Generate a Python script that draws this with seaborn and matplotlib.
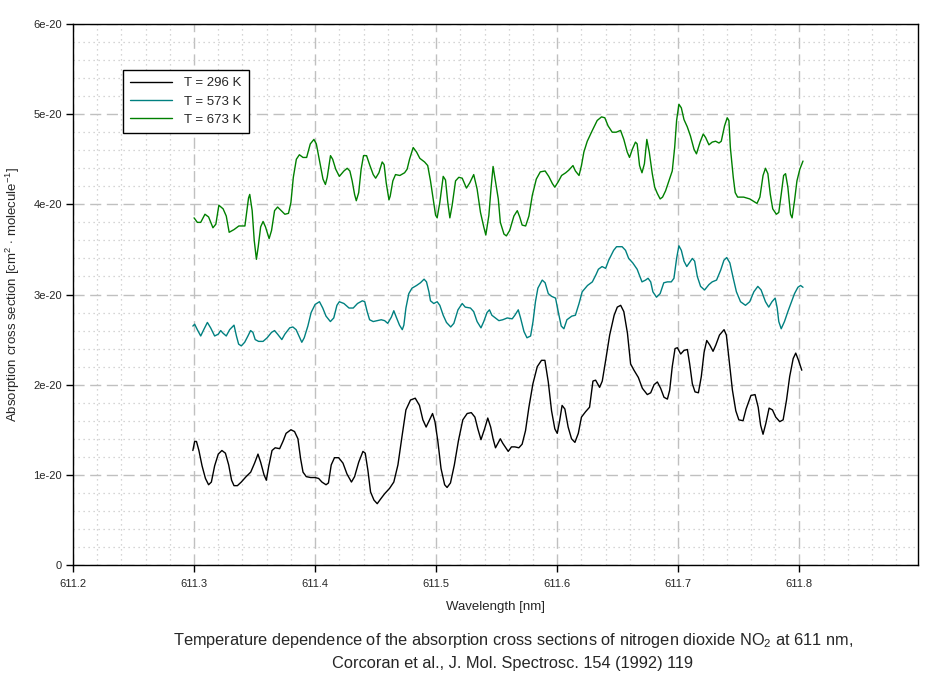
import numpy as np
import pandas as pd
import seaborn as sns
import matplotlib
matplotlib.use("Agg")
from matplotlib import pyplot as plt
from matplotlib.ticker import MultipleLocator, FuncFormatter

# values, cross sections in units of 1e-20 cm^2/molecule
wl_296 = [611.299, 611.3005, 611.302, 611.304, 611.3066, 611.3094, 611.312, 611.3143, 611.317, 611.320,
          611.323, 611.3259, 611.3286, 611.331, 611.333, 611.3358, 611.339, 611.343, 611.3468, 611.350,
          611.3528, 611.355, 611.3578, 611.3597, 611.3616, 611.3644, 611.367, 611.3707, 611.3734, 611.376,
          611.380, 611.383, 611.3858, 611.388, 611.390, 611.3927, 611.3963, 611.400, 611.4029, 611.4056,
          611.409, 611.411, 611.4133, 611.416, 611.4194, 611.423, 611.4263, 611.430, 611.4326, 611.436,
          611.4395, 611.4414, 611.4436, 611.4458, 611.4486, 611.4513, 611.454, 611.4574, 611.4615, 611.465,
          611.4684, 611.4717, 611.475, 611.4788, 611.4827, 611.4862, 611.489, 611.4917, 611.4945, 611.497,
          611.499, 611.5014, 611.504, 611.507, 611.509, 611.5118, 611.515, 611.5184, 611.522, 611.5256,
          611.529, 611.532, 611.5344, 611.537, 611.540, 611.5426, 611.545, 611.547, 611.549, 611.551,
          611.553, 611.555, 611.5565,
          611.5595, 611.5622, 611.565, 611.5683, 611.571, 611.5738, 611.5766, 611.5799, 611.5835, 611.587,
          611.5898, 611.5926, 611.5953, 611.598, 611.600, 611.602, 611.604, 611.6063, 611.609, 611.6118,
          611.6146, 611.6174, 611.620, 611.6234, 611.6267, 611.6295, 611.6317, 611.635, 611.6372, 611.640,
          611.6433, 611.647, 611.6496, 611.6524, 611.655, 611.658, 611.6606, 611.6634, 611.667, 611.6703,
          611.6744, 611.6772, 611.680, 611.6827, 611.6854, 611.6882, 611.691, 611.6929, 611.695, 611.6973,
          611.6992, 611.702, 611.7047, 611.7075, 611.7094, 611.7116, 611.7138, 611.7166, 611.719, 611.7213,
          611.7235, 611.726, 611.7287, 611.731, 611.734, 611.7378, 611.7397, 611.742, 611.7447, 611.7475,
          611.750, 611.7535, 611.756, 611.760, 611.7634, 611.766, 611.768, 611.770, 611.7723, 611.775,
          611.7778, 611.7805, 611.7838, 611.7866, 611.7894, 611.792, 611.7949, 611.797, 611.7993, 611.802]
xs_296 = [1.27, 1.37, 1.37, 1.27, 1.10, 0.96, 0.89, 0.92, 1.10, 1.23,
          1.27, 1.24, 1.11, 0.94, 0.88, 0.88, 0.92, 0.98, 1.03, 1.13,
          1.23, 1.14, 1.00, 0.94, 1.09, 1.27, 1.30, 1.29, 1.37, 1.46,
          1.50, 1.48, 1.40, 1.18, 1.03, 0.98, 0.97, 0.97, 0.96, 0.92,
          0.89, 0.91, 1.11, 1.19, 1.19, 1.13, 1.01, 0.92, 0.98, 1.14,
          1.26, 1.24, 1.05, 0.81, 0.72, 0.68, 0.73, 0.79, 0.85, 0.92,
          1.11, 1.42, 1.72, 1.83, 1.85, 1.77, 1.61, 1.53, 1.61, 1.68,
          1.59, 1.37, 1.07, 0.89, 0.86, 0.91, 1.11, 1.38, 1.61, 1.68,
          1.69, 1.64, 1.51, 1.39, 1.51, 1.63, 1.53, 1.40, 1.30, 1.35,
          1.40, 1.35, 1.32,
          1.26, 1.31, 1.31, 1.30, 1.34, 1.49, 1.75, 2.01, 2.20, 2.27,
          2.27, 2.03, 1.71, 1.51, 1.46, 1.60, 1.77, 1.73, 1.53, 1.40,
          1.36, 1.46, 1.64, 1.70, 1.75, 2.04, 2.05, 1.97, 2.04, 2.27,
          2.55, 2.77, 2.86, 2.88, 2.81, 2.57, 2.23, 2.16, 2.08, 1.96,
          1.89, 1.91, 2.00, 2.03, 1.96, 1.86, 1.84, 1.94, 2.20, 2.40,
          2.41, 2.34, 2.38, 2.39, 2.23, 2.01, 1.92, 1.91, 2.09, 2.36,
          2.49, 2.44, 2.37, 2.44, 2.55, 2.61, 2.55, 2.27, 1.94, 1.71,
          1.61, 1.60, 1.73, 1.88, 1.89, 1.75, 1.55, 1.45, 1.57, 1.74,
          1.72, 1.64, 1.59, 1.61, 1.83, 2.09, 2.29, 2.35, 2.27, 2.16]

wl_573 = [611.299, 611.3005, 611.3027, 611.3055, 611.308, 611.311, 611.3137, 611.317, 611.320, 611.322,
          611.324, 611.3266, 611.3294, 611.333, 611.335, 611.3368, 611.339, 611.3418, 611.3445, 611.3467,
          611.3486, 611.3505, 611.3533, 611.357, 611.3604, 611.364, 611.3665, 611.369, 611.3725, 611.375,
          611.379, 611.3816, 611.3843, 611.387, 611.389, 611.391, 611.394, 611.3967, 611.400, 611.4036,
          611.4063, 611.409, 611.4126, 611.4154, 611.418, 611.420,
          611.4238, 611.428, 611.4315, 611.435, 611.439, 611.441, 611.443, 611.445, 611.448, 611.4513,
          611.4546, 611.4574, 611.460, 611.463, 611.465, 611.467, 611.4697, 611.472, 611.4733, 611.475,
          611.4774, 611.480, 611.4838, 611.487, 611.490, 611.492, 611.494, 611.4953, 611.498, 611.5008,
          611.503, 611.5058, 611.5085, 611.512, 611.5146, 611.518, 611.5215, 611.524, 611.5283, 611.531,
          611.5338, 611.537, 611.5393, 611.542, 611.544, 611.546,
          611.5518, 611.555, 611.5587, 611.5628, 611.565, 611.5678, 611.5697, 611.5725, 611.575, 611.578,
          611.580, 611.582, 611.584, 611.5876, 611.590, 611.5926, 611.5953, 611.5986, 611.6008, 611.6033,
          611.6055, 611.608, 611.612, 611.615, 611.618, 611.6206, 611.625, 611.629, 611.632, 611.634,
          611.637, 611.640, 611.6425, 611.6466, 611.649, 611.6536, 611.6564, 611.659, 611.6624, 611.666,
          611.670, 611.673, 611.675,
          611.6772, 611.679, 611.682, 611.685, 611.688, 611.691, 611.6942, 611.6964, 611.6986, 611.7005,
          611.7025, 611.7047, 611.707, 611.709, 611.7116, 611.7135, 611.7157, 611.7184, 611.7217, 611.7253,
          611.728, 611.7316, 611.735, 611.7377, 611.740, 611.7426, 611.7454, 611.748, 611.7514, 611.7555,
          611.759, 611.7624, 611.7657, 611.7684, 611.772, 611.7747, 611.7774, 611.780, 611.7817, 611.783,
          611.785, 611.7877, 611.7905, 611.793, 611.796, 611.7988, 611.801, 611.803]
xs_573 = [2.65, 2.67, 2.61, 2.54, 2.61, 2.69, 2.63, 2.54, 2.56, 2.60,
          2.57, 2.54, 2.61, 2.66, 2.54, 2.45, 2.43, 2.47, 2.54, 2.60,
          2.58, 2.50, 2.48, 2.48, 2.52, 2.58, 2.60, 2.56, 2.50, 2.56,
          2.63, 2.64, 2.61, 2.53, 2.47, 2.52, 2.65, 2.80, 2.89, 2.92,
          2.85, 2.76, 2.70, 2.74, 2.88, 2.92,
          2.90, 2.85, 2.85, 2.90, 2.93, 2.92, 2.81, 2.72, 2.70, 2.71,
          2.72, 2.71, 2.68, 2.75, 2.82, 2.75, 2.66, 2.61, 2.66, 2.85,
          3.01, 3.07, 3.10, 3.13, 3.17, 3.14, 3.03, 2.93, 2.90, 2.92,
          2.88, 2.77, 2.69, 2.64, 2.68, 2.83, 2.90, 2.86, 2.85, 2.81,
          2.70, 2.63, 2.70, 2.80, 2.83, 2.77,
          2.71, 2.72, 2.74, 2.73, 2.77, 2.83, 2.74, 2.59, 2.52, 2.54,
          2.70, 2.92, 3.07, 3.16, 3.13, 3.01, 2.98, 2.96, 2.81, 2.65,
          2.62, 2.72, 2.76, 2.77, 2.90, 3.03, 3.10, 3.14, 3.22, 3.28,
          3.31, 3.29, 3.38, 3.49, 3.53, 3.53, 3.49, 3.40, 3.35, 3.28,
          3.14, 3.16, 3.18,
          3.14, 3.03, 2.97, 3.01, 3.13, 3.14, 3.14, 3.18, 3.40, 3.54,
          3.49, 3.37, 3.31, 3.35, 3.40, 3.37, 3.20, 3.09, 3.05, 3.11,
          3.14, 3.16, 3.27, 3.38, 3.41, 3.35, 3.18, 3.03, 2.92, 2.88,
          2.92, 3.03, 3.09, 3.05, 2.92, 2.86, 2.92, 2.96, 2.85, 2.70,
          2.62, 2.70, 2.81, 2.90, 3.01, 3.08, 3.10, 3.08]

wl_673 = [611.300, 611.3027, 611.3055, 611.309, 611.312, 611.3156, 611.318, 611.3205, 611.324, 611.3266,
          611.329, 611.333, 611.337, 611.342, 611.345, 611.346, 611.348, 611.3497, 611.3515, 611.353,
          611.355, 611.357, 611.359, 611.362, 611.364, 611.3665, 611.369, 611.372, 611.375, 611.378,
          611.380, 611.382, 611.3845, 611.387, 611.390, 611.393, 611.396, 611.399, 611.401, 611.404,
          611.4065, 611.4085, 611.410, 611.4127, 611.4145, 611.417, 611.420,
          611.4238, 611.4265, 611.4287, 611.4306, 611.4326, 611.434, 611.436, 611.438, 611.440, 611.4425,
          611.445, 611.448, 611.450, 611.4527, 611.4554, 611.457, 611.4587, 611.461, 611.462, 611.4642,
          611.4664, 611.470, 611.4739, 611.476, 611.478, 611.481, 611.4838, 611.4865, 611.4904, 611.493,
          611.4953, 611.4975, 611.4995, 611.5008, 611.503, 611.5058, 611.5077, 611.5096, 611.5113, 611.5132,
          611.516, 611.5187, 611.5215, 611.525, 611.5278, 611.531, 611.5338, 611.5366, 611.5393, 611.541,
          611.5435, 611.5454, 611.547,
          611.5513, 611.553, 611.556, 611.558, 611.5607, 611.5642, 611.567, 611.569, 611.571, 611.5739,
          611.5766, 611.5794, 611.5827, 611.586, 611.590, 611.593, 611.596, 611.598, 611.6008, 611.6036,
          611.607, 611.6096, 611.613, 611.615, 611.618, 611.620, 611.622, 611.6248, 611.629, 611.633,
          611.6366, 611.6393, 611.642, 611.6454, 611.6487, 611.6523, 611.655, 611.6578, 611.6597, 611.662,
          611.6646, 611.666, 611.668, 611.670, 611.672, 611.674, 611.676,
          611.6785, 611.6805, 611.6827, 611.685, 611.687, 611.6895, 611.692, 611.695, 611.697, 611.6986,
          611.7005, 611.7025, 611.7047, 611.7074, 611.710, 611.713, 611.715, 611.718, 611.7206, 611.7226,
          611.7253, 611.728, 611.7308, 611.7336, 611.7355, 611.7382, 611.7404, 611.7418, 611.743, 611.7454,
          611.747, 611.749, 611.754, 611.759, 611.7625, 611.765, 611.7674, 611.770, 611.772, 611.774,
          611.776, 611.778, 611.781, 611.783, 611.785, 611.787, 611.7886, 611.7905, 611.7927, 611.794,
          611.796, 611.798, 611.8004, 611.803]
xs_673 = [3.85, 3.80, 3.80, 3.89, 3.86, 3.74, 3.78, 3.99, 3.95, 3.87,
          3.69, 3.72, 3.76, 3.76, 4.07, 4.11, 3.93, 3.60, 3.39, 3.53,
          3.75, 3.81, 3.75, 3.62, 3.71, 3.93, 3.97, 3.93, 3.89, 3.90,
          4.02, 4.30, 4.50, 4.55, 4.52, 4.52, 4.67, 4.72, 4.67, 4.46,
          4.28, 4.22, 4.30, 4.54, 4.50, 4.39, 4.31,
          4.37, 4.40, 4.37, 4.26, 4.11, 4.04, 4.13, 4.39, 4.54, 4.54,
          4.44, 4.33, 4.29, 4.35, 4.47, 4.44, 4.24, 4.05, 4.09, 4.26,
          4.33, 4.32, 4.35, 4.39, 4.50, 4.63, 4.58, 4.51, 4.47, 4.43,
          4.26, 4.06, 3.88, 3.85, 4.02, 4.31, 4.27, 4.02, 3.85, 3.99,
          4.26, 4.30, 4.29, 4.18, 4.24, 4.33, 4.17, 3.91, 3.75, 3.66,
          3.875, 4.19, 4.42,
          4.06, 3.80, 3.67, 3.65, 3.71, 3.87, 3.93, 3.86, 3.77, 3.76,
          3.87, 4.10, 4.28, 4.36, 4.37, 4.31, 4.23, 4.19, 4.25, 4.32,
          4.35, 4.38, 4.43, 4.37, 4.32, 4.43, 4.58, 4.70, 4.82, 4.93,
          4.97, 4.96, 4.87, 4.80, 4.80, 4.82, 4.72, 4.58, 4.52, 4.61,
          4.69, 4.67, 4.43, 4.35, 4.45, 4.72, 4.58,
          4.34, 4.19, 4.12, 4.06, 4.08, 4.15, 4.25, 4.37, 4.63, 4.93,
          5.11, 5.07, 4.94, 4.86, 4.76, 4.61, 4.56, 4.69, 4.78, 4.74,
          4.66, 4.69, 4.70, 4.68, 4.70, 4.87, 4.96, 4.93, 4.63, 4.30,
          4.13, 4.08, 4.08, 4.06, 4.03, 4.01, 4.08, 4.32, 4.40, 4.34,
          4.11, 3.95, 3.89, 3.91, 4.11, 4.32, 4.34, 4.19, 3.89, 3.85,
          4.04, 4.26, 4.39, 4.48]

labels = ["T = 296 K", "T = 573 K", "T = 673 K"]
colors = ["#000000", "#008080", "#008000"]

x_ticks = [611.2, 611.3, 611.4, 611.5, 611.6, 611.7, 611.8]
x_lim = (611.2, 611.898)
y_lim = (0, 6e-20)

caption = ("Temperature dependence of the absorption cross sections of nitrogen dioxide NO$_2$ at 611 nm,\n"
           "Corcoran et al., J. Mol. Spectrosc. 154 (1992) 119")

frames = []
for wl, xs, lab in zip([wl_296, wl_573, wl_673], [xs_296, xs_573, xs_673], labels):
    frames.append(pd.DataFrame({"wl": wl, "xs": np.array(xs) * 1e-20, "series": lab}))
df = pd.concat(frames, ignore_index=True)

sns.set_style("white")
plt.rcParams["font.family"] = ["Liberation Sans", "DejaVu Sans"]
plt.rcParams["mathtext.fontset"] = "custom"
plt.rcParams["mathtext.rm"] = "Liberation Sans"
plt.rcParams["mathtext.it"] = "Liberation Sans"

fig = plt.figure(figsize=(9.44, 6.76), dpi=100)
ax = fig.add_axes([73 / 944, 1 - 565 / 676, 845 / 944, 541 / 676])

sns.lineplot(data=df, x="wl", y="xs", hue="series", palette=dict(zip(labels, colors)),
             estimator=None, sort=False, linewidth=1.0, ax=ax, legend=False)

ax.set_xlim(*x_lim)
ax.set_ylim(*y_lim)
ax.set_xticks(x_ticks)
ax.xaxis.set_major_formatter(FuncFormatter(lambda v, p: f"{v:.1f}"))
ax.xaxis.set_minor_locator(MultipleLocator(0.02))
ax.yaxis.set_major_locator(MultipleLocator(1e-20))
ax.yaxis.set_minor_locator(MultipleLocator(0.2e-20))
ax.yaxis.set_major_formatter(FuncFormatter(lambda v, p: "0" if abs(v) < 1e-25 else f"{v / 1e-20:.0f}e-20"))

ax.grid(which="major", color="#c0c0c0", linestyle=(0, (8, 4)), linewidth=1.0)
ax.grid(which="minor", color="#c8c8c8", linestyle=(0, (1, 3)), linewidth=0.9)
ax.set_axisbelow(True)
for s in ax.spines.values():
    s.set_color("black")
    s.set_linewidth(1.0)

ax.tick_params(axis="both", which="major", direction="out", length=5, width=1,
               labelsize=8, color="black", bottom=True, left=True)
ax.tick_params(axis="both", which="minor", length=0)
ax.tick_params(axis="x", pad=5)
ax.tick_params(axis="y", pad=3)

ax.set_xlabel("Wavelength [nm]", fontsize=9.5)
ax.xaxis.set_label_coords(0.5, -0.066)
ax.set_ylabel(r"Absorption cross section [cm$^2$ $\cdot$ molecule$^{-1}$]", fontsize=9.5, va="center")
ax.yaxis.set_label_coords(-0.071, 0.5)

handles = [plt.Line2D([], [], color=c, linewidth=1.0) for c in colors]
leg = ax.legend(handles, labels, loc="upper left", bbox_to_anchor=(0.059, 0.915),
                fontsize=9.5, frameon=True, fancybox=False, edgecolor="black",
                framealpha=1, borderpad=0.55, handlelength=3.2, handletextpad=0.9,
                labelspacing=0.45, borderaxespad=0)
leg.get_frame().set_linewidth(1.0)

fig.text(513 / 944, 1 - 651 / 676, caption, ha="center", va="center", fontsize=11.8, linespacing=1.45)

fig.savefig("out.png", dpi=100)
